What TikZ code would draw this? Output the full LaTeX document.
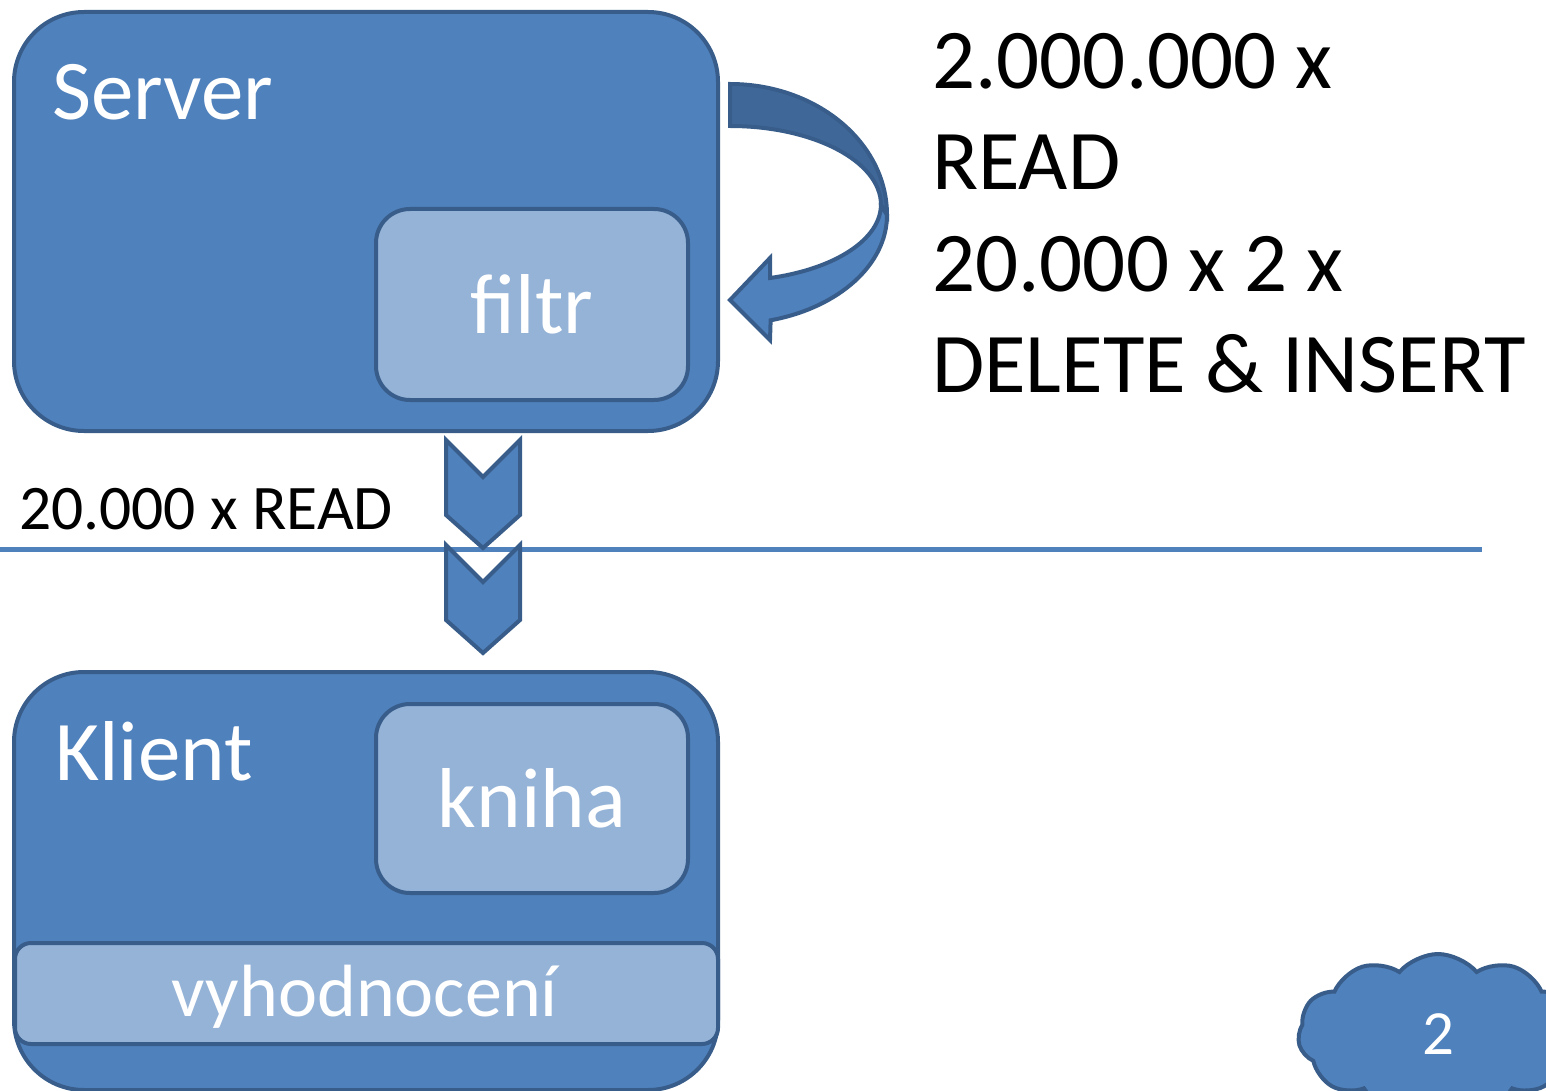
\documentclass[tikz,border=0pt]{standalone}
\usepackage{fontspec}
\setmainfont{Carlito}
\usetikzlibrary{shapes.symbols}
\tikzstyle{slide} = [x=1pt, y=-1pt]
\definecolor{boxBlue}{HTML}{4F81BD}
\definecolor{boxBorder}{HTML}{385D8A}
\definecolor{boxLight}{HTML}{95B3D7}
\definecolor{arrowBack}{HTML}{3F6899}
\newcommand{\titleFont}{\fontsize{85}{100}\selectfont}
\newcommand{\countFont}{\fontsize{85}{101.5}\selectfont}
\newcommand{\readFont}{\fontsize{63.5}{76}\selectfont}
\newcommand{\barFont}{\fontsize{74}{86}\selectfont}
\newcommand{\cloudFont}{\fontsize{63}{75}\selectfont}
\tikzstyle{outerBox} = [draw=boxBorder, fill=boxBlue, line width=4pt, rounded corners=70pt, anchor=north west, inner sep=0pt]
\tikzstyle{innerBox} = [draw=boxBorder, fill=boxLight, line width=4pt, rounded corners=34pt, anchor=north west, text=white, font=\titleFont]
\tikzstyle{barBox} = [draw=boxBorder, fill=boxLight, line width=4pt, rounded corners=16pt, anchor=north west, inner sep=0pt]
\tikzstyle{titleText} = [text=white, anchor=base west, inner sep=0pt, font=\titleFont]
\tikzstyle{shapeLine} = [draw=boxBorder, fill=boxBlue, line width=4pt, line join=miter]
\newcommand{\chevronDown}[2]{\draw [shapeLine] (#1 - 37, #2) -- (#1, #2 + 37) -- (#1 + 37, #2) -- (#1 + 37, #2 + 75) -- (#1, #2 + 108) -- (#1 - 37, #2 + 75) -- cycle;}

\begin{document}
\begin{tikzpicture}[slide]
  \useasboundingbox (0,0) rectangle (1546,1091);
  % server side
  \node [outerBox, minimum width=704, minimum height=419] (server) at (12,10) {};
  \node [innerBox, minimum width=312, minimum height=191] (filtr) at (374,207) {filtr};
  \node [titleText] (serverLabel) at (52,120) {Server};
  % curved arrow
  \draw [shapeLine, fill=arrowBack] (730,84) arc [start angle=-90, end angle=0, x radius=157, y radius=131] -- (881,205) arc [start angle=0, end angle=-90, x radius=151, y radius=79] -- cycle;
  \draw [shapeLine] (887,215) arc [start angle=0, end angle=75, x radius=157, y radius=109] -- (770,340) -- (730,300) -- (770,258) -- (770,278) arc [start angle=74.6, end angle=0, x radius=151, y radius=76] -- cycle;
  \node [anchor=north west, align=left, inner sep=0pt, font=\countFont] (counts) at (932,33) {2.000.000 x\\READ\\20.000 x 2 x\\DELETE \& INSERT};
  % network
  \draw [boxBlue, line width=5pt] (0,549) -- (1482,549);
  \node [anchor=base west, inner sep=0pt, font=\readFont] (readCount) at (19,529) {20.000 x READ};
  \foreach \top in {440,545} {
    \chevronDown{483}{\top}
  }
  % client side
  \node [outerBox, minimum width=704, minimum height=418] (klient) at (12,670) {};
  \node [innerBox, minimum width=312, minimum height=189] (kniha) at (374,702) {kniha};
  \node [titleText] (klientLabel) at (55,780) {Klient};
  \node [barBox, minimum width=703, minimum height=101] (vyhodnoceni) at (13,941) {};
  \node [anchor=base, inner sep=0pt, text=white, font=\barFont] (vyhodnoceniLabel) at (365,1016) {vyhodnocen\'{\i}};
  % page number
  \node [cloud, cloud puffs=11, cloud puff arc=100, aspect=1.7, draw=boxBorder, fill=boxBlue, line width=4pt, minimum width=280, minimum height=160, text=white, font=\cloudFont] (cloud) at (1438,1034) {2};
\end{tikzpicture}
\end{document}
